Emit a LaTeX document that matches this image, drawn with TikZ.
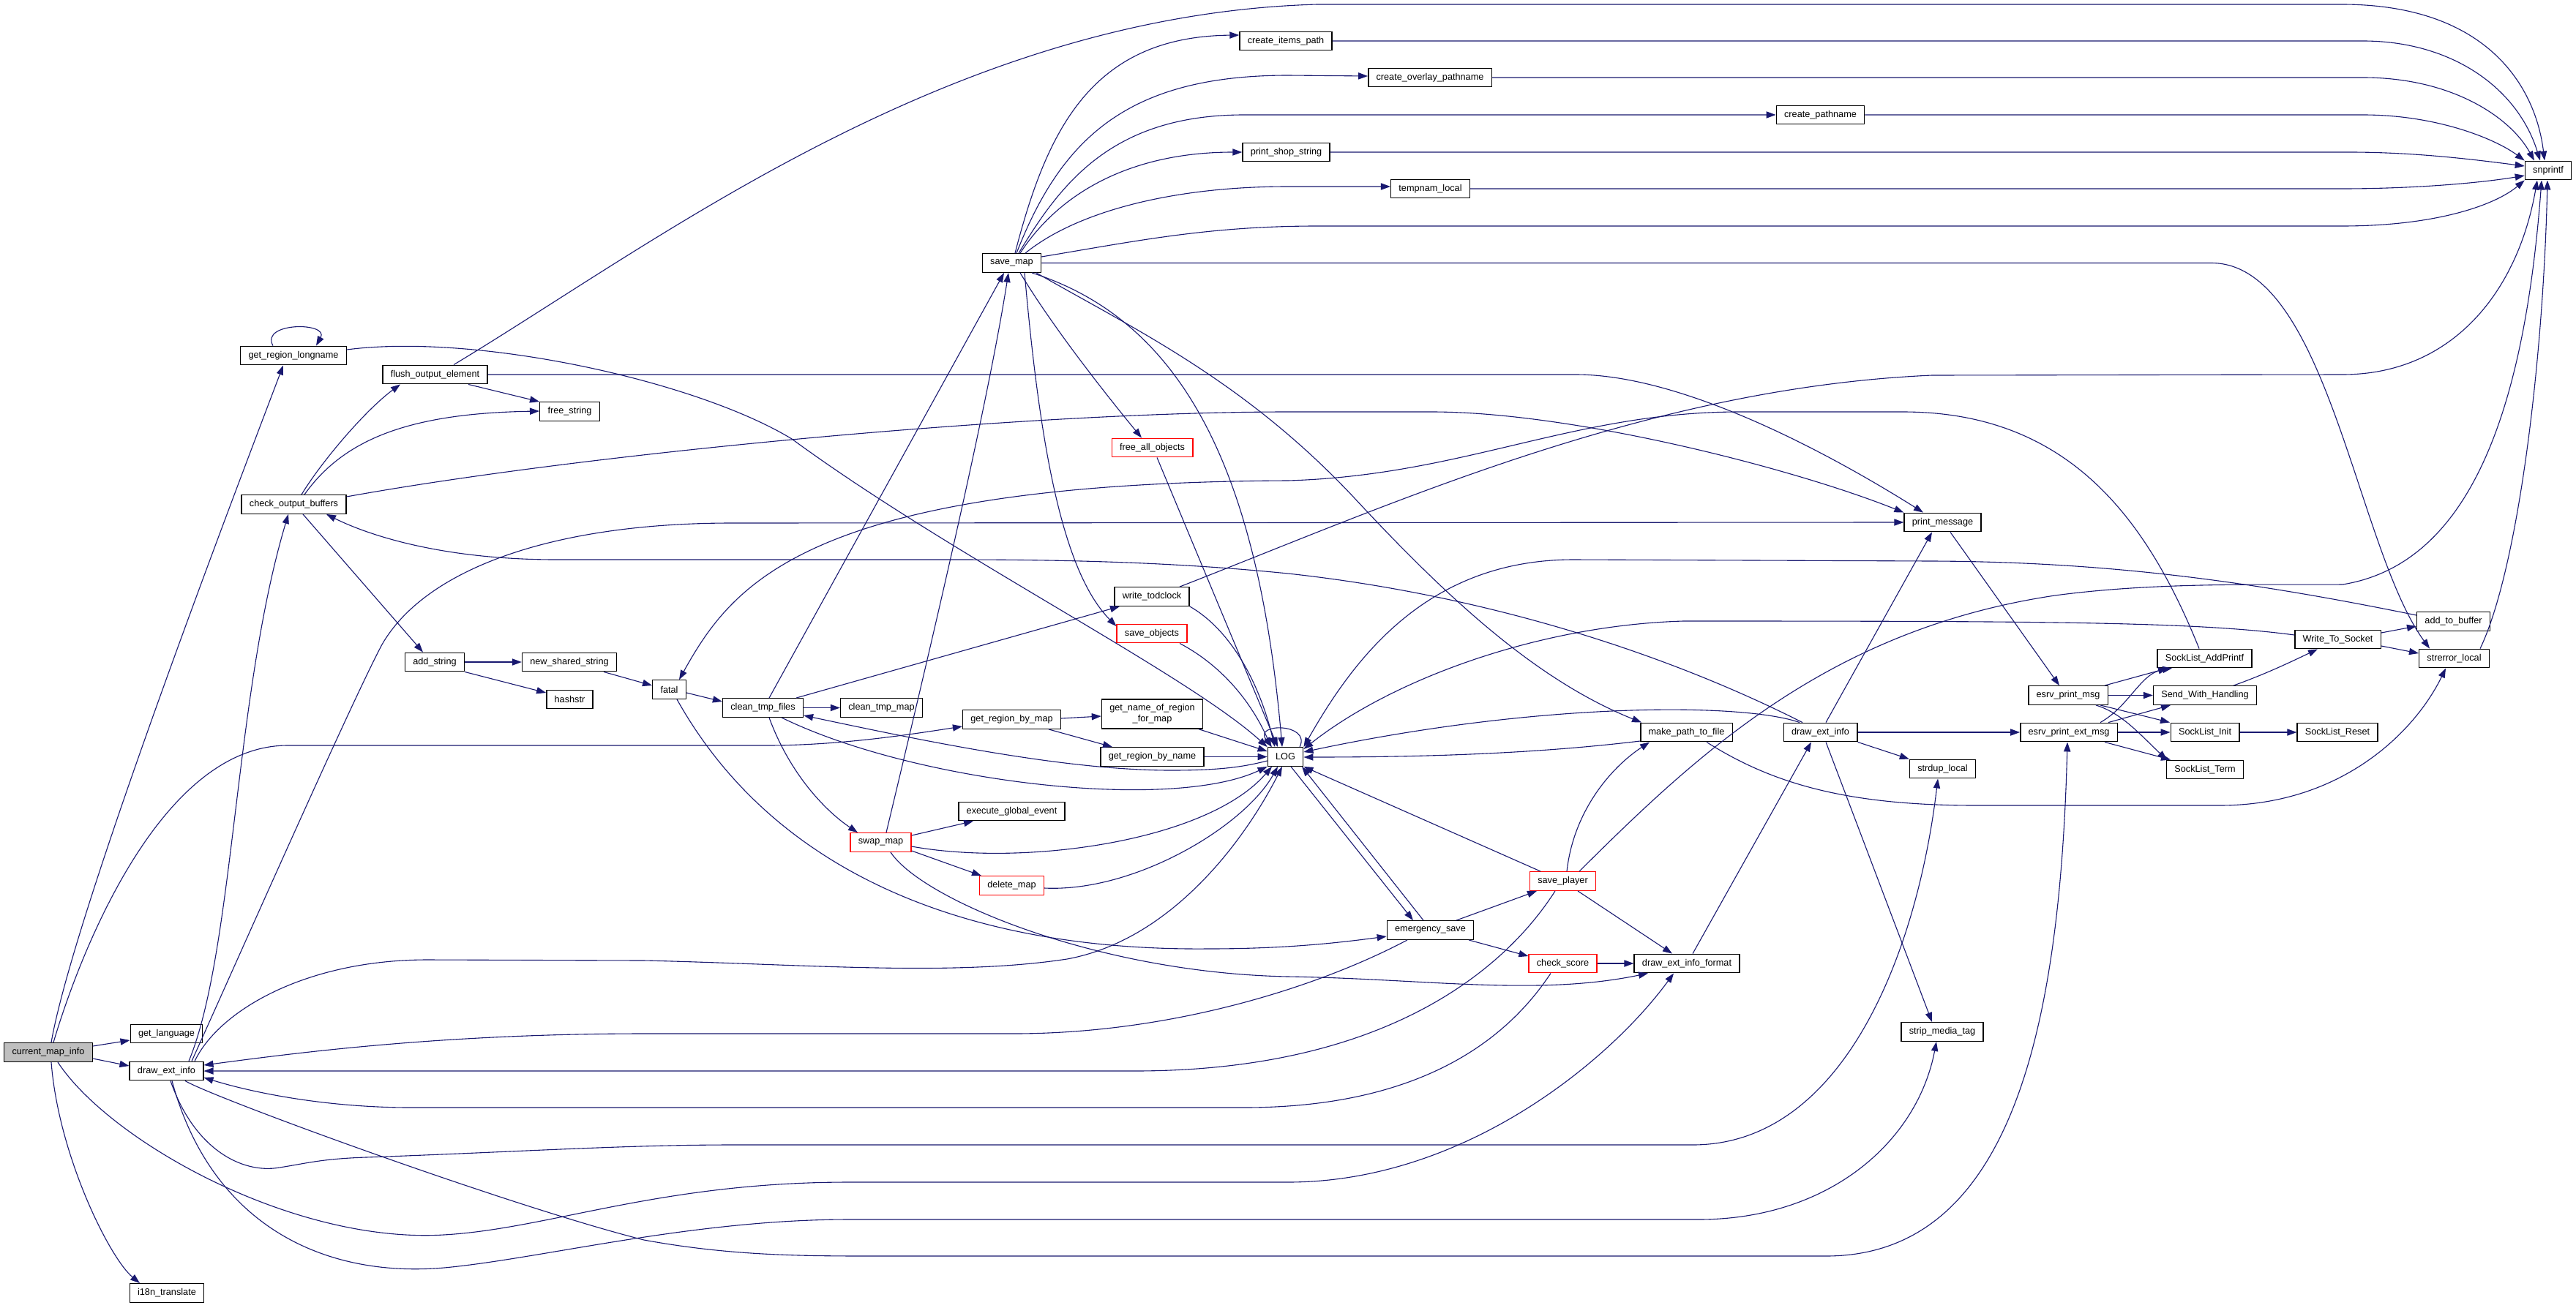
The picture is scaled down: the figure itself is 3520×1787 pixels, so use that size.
\documentclass[tikz,border=0pt]{standalone}
\usepackage{fontspec}
\newfontfamily\gvfont{Liberation Sans}
\usetikzlibrary{arrows.meta}
\definecolor{edgec}{HTML}{191970}
\definecolor{nodegray}{HTML}{BFBFBF}
\begin{document}
\begin{tikzpicture}[x=0.5pt,y=-0.5pt,
  fn/.style={draw=black,line width=0.7pt,fill=white,minimum height=12.75pt,inner xsep=5.4pt,inner ysep=0pt,
     font={\gvfont\fontsize{6.35pt}{7.4pt}\selectfont}},
  fnr/.style={fn,draw=red},
  e/.style={draw=edgec,line width=0.55pt,-{Triangle[length=6.5pt,width=4.6pt]}}]
\fill[white] (0,0) rectangle (3520,1787);
\useasboundingbox (0,0) rectangle (3520,1787);

% ---------- nodes ----------
\node[fn,fill=nodegray] (cmi) at (66,1438.5) {current\_map\_info};
\node[fn] (getlang) at (227.5,1413) {get\_language};
\node[fn] (deiL) at (227.5,1464) {draw\_ext\_info};
\node[fn] (i18n) at (228,1767.5) {i18n\_translate};
\node[fn] (grl) at (401,486) {get\_region\_longname};
\node[fn] (cob) at (401.5,689.5) {check\_output\_buffers};
\node[fn] (flush) at (594.5,512) {flush\_output\_element};
\node[fn] (freestr) at (778.5,562.5) {free\_string};
\node[fn] (addstr) at (594,905) {add\_string};
\node[fn] (nss) at (778,905) {new\_shared\_string};
\node[fn] (hashstr) at (778.5,956) {hashstr};
\node[fn] (fatal) at (914.5,942.5) {fatal};
\node[fn] (ctf) at (1042.5,967.5) {clean\_tmp\_files};
\node[fn] (ctm) at (1204.5,967.5) {clean\_tmp\_map};
\node[fn] (grbm) at (1382.5,983.5) {get\_region\_by\_map};
\node[fn,align=center,minimum height=20pt] (gnrfm) at (1574.5,976) {get\_name\_of\_region\\\_for\_map};
\node[fn] (grbn) at (1574.5,1034.5) {get\_region\_by\_name};
\node[fn] (LOG) at (1756.5,1034.5) {LOG};
\node[fn] (savemap) at (1382.5,359.5) {save\_map};
\node[fn] (cip) at (1757,56) {create\_items\_path};
\node[fn] (cop) at (1954,106) {create\_overlay\_pathname};
\node[fn] (cp) at (2487.5,157) {create\_pathname};
\node[fn] (psf) at (1757.5,208) {print\_shop\_string};
\node[fn] (tmpn) at (1954.5,258) {tempnam\_local};
\node[fn] (snp) at (3482,233) {snprintf};
\node[fnr] (fao) at (1574.5,612) {free\_all\_objects};
\node[fn] (wtc) at (1574,815.5) {write\_todclock};
\node[fnr] (sobj) at (1574,866) {save\_objects};
\node[fn] (ege) at (1382.5,1109) {execute\_global\_event};
\node[fnr] (swap) at (1203.5,1151.5) {swap\_map};
\node[fnr] (delmap) at (1382.5,1210.5) {delete\_map};
\node[fn] (esave) at (1954.5,1271.5) {emergency\_save};
\node[fnr] (splayer) at (2135.5,1204.5) {save\_player};
\node[fnr] (cscore) at (2135.5,1317) {check\_score};
\node[fn] (deif) at (2305,1317) {draw\_ext\_info\_format};
\node[fn] (mptf) at (2304.5,1001) {make\_path\_to\_file};
\node[fn] (deiR) at (2487.5,1001) {draw\_ext\_info};
\node[fn] (pmsg) at (2654.5,714) {print\_message};
\node[fn] (sdup) at (2654.5,1051) {strdup\_local};
\node[fn] (smt) at (2654,1410.5) {strip\_media\_tag};
\node[fn] (epm) at (2826,950.5) {esrv\_print\_msg};
\node[fn] (epem) at (2827,1001) {esrv\_print\_ext\_msg};
\node[fn] (slap) at (3012.5,900) {SockList\_AddPrintf};
\node[fn] (swh) at (3013,950.5) {Send\_With\_Handling};
\node[fn] (sli) at (3013,1001) {SockList\_Init};
\node[fn] (slt) at (3013,1052) {SockList\_Term};
\node[fn] (slr) at (3194,1001) {SockList\_Reset};
\node[fn] (wts) at (3194.5,874) {Write\_To\_Socket};
\node[fn] (atb) at (3352.5,849.5) {add\_to\_buffer};
\node[fn] (strerr) at (3353.5,900) {strerror\_local};

% ---------- edges ----------
% current_map_info
\draw[e] (cmi.north -| 70,0) .. controls (100,1250) and (330,650) .. (grl.south -| 387,0);
\draw[e] (cmi.east |- 0,1430) -- (getlang.west |- 0,1422);
\draw[e] (cmi.east |- 0,1447) -- (deiL.west |- 0,1457);
\draw[e] (cmi.south -| 70,0) .. controls (80,1580) and (150,1720) .. (i18n.north -| 191,0);
\draw[e] (cmi.north -| 73,0) .. controls (110,1300) and (220,1019) .. (393,1019) -- (1048,1019) .. controls (1150,1019) and (1250,1003) .. (grbm.west |- 0,993);
\draw[e] (cmi.south -| 79,0) .. controls (150,1560) and (400,1700) .. (606,1688) .. controls (750,1680) and (900,1616) .. (1160,1616) -- (1760,1616) .. controls (2000,1616) and (2200,1450) .. (deif.south -| 2287,0);

% get_region_longname
\draw[e] (grl.north -| 373,0) .. controls (355,440) and (450,440) .. (grl.north -| 432,0);
\draw[e] (grl.east |- 0,478) .. controls (650,455) and (950,520) .. (1082,600) .. controls (1300,760) and (1620,920) .. (LOG.north west);

% check_output_buffers
\draw[e] (cob.north -| 412,0) .. controls (440,630) and (500,560) .. (flush.south -| 547,0);
\draw[e] (cob.north -| 416,0) .. controls (470,600) and (560,565) .. (freestr.west |- 0,562);
\draw[e] (cob.south -| 414,0) -- (addstr.north -| 578,0);
\draw[e] (cob.east |- 0,679) .. controls (800,620) and (1400,563) .. (1760,563) -- (1956,563) .. controls (2150,563) and (2450,640) .. (pmsg.north west);

% flush_output_element
\draw[e] (flush.south -| 640,0) -- (freestr.north west);
\draw[e] (flush.north -| 620,0) .. controls (900,330) and (1300,20) .. (1800,6) -- (3200,6) .. controls (3400,6) and (3465,120) .. (snp.north -| 3477,0);
\draw[e] (flush.east) -- (2153,512) .. controls (2300,512) and (2500,620) .. (pmsg.north -| 2628,0);

% add_string / new_shared_string
\draw[e] (addstr.east) -- (nss.west);
\draw[e] (addstr.south east) -- (hashstr.west |- 0,947);
\draw[e] (nss.south -| 825,0) -- (fatal.west |- 0,937);

% fatal
\draw[e] (fatal.east |- 0,947) -- (ctf.west |- 0,959);
\draw[e] (fatal.south -| 925,0) .. controls (1050,1180) and (1300,1300) .. (1650,1297) .. controls (1750,1297) and (1820,1290) .. (esave.west |- 0,1280);

% clean_tmp_files
\draw[e] (ctf.east) -- (ctm.west);
\draw[e] (ctf.north -| 1051,0) -- (savemap.south -| 1372,0);
\draw[e] (ctf.north -| 1088,0) -- (wtc.south -| 1530,0);
\draw[e] (ctf.south -| 1051,0) .. controls (1080,1060) and (1130,1110) .. (swap.north -| 1172,0);
\draw[e] (ctf.south -| 1068,0) .. controls (1250,1070) and (1600,1110) .. (LOG.south west);
\draw[e] (LOG.west |- 0,1040) .. controls (1700,1048) and (1670,1053) .. (1600,1053) .. controls (1450,1053) and (1250,1010) .. (ctf.east |- 0,978);

% swap_map
\draw[e] (swap.north -| 1211,0) .. controls (1280,850) and (1350,550) .. (savemap.south -| 1378,0);
\draw[e] (swap.east |- 0,1142) -- (ege.south -| 1330,0);
\draw[e] (swap.east |- 0,1163) -- (delmap.north -| 1341,0);
\draw[e] (swap.east |- 0,1157) .. controls (1400,1185) and (1650,1150) .. (LOG.south -| 1738,0);
\draw[e] (swap.south -| 1217,0) .. controls (1260,1230) and (1500,1330) .. (1760,1335) .. controls (1950,1338) and (2100,1362) .. (deif.south -| 2252,0);
\draw[e] (delmap.east |- 0,1214) .. controls (1550,1220) and (1700,1130) .. (LOG.south -| 1746,0);

% get_region_by_map
\draw[e] (grbm.east |- 0,982) -- (gnrfm.west |- 0,979);
\draw[e] (grbm.south -| 1433,0) -- (grbn.north -| 1520,0);
\draw[e] (gnrfm.south -| 1638,0) -- (LOG.west |- 0,1027);
\draw[e] (grbn.east) -- (LOG.west |- 0,1034.5);

% save_map
\draw[e] (savemap.north -| 1387,0) .. controls (1430,180) and (1490,50) .. (cip.west |- 0,48);
\draw[e] (savemap.north -| 1389,0) .. controls (1450,190) and (1540,103) .. (1760,103) -- (cop.west |- 0,104);
\draw[e] (savemap.north -| 1392,0) .. controls (1450,250) and (1520,157) .. (1700,157) -- (cp.west);
\draw[e] (savemap.north -| 1394,0) .. controls (1450,260) and (1550,208) .. (psf.west);
\draw[e] (savemap.north -| 1401,0) .. controls (1470,290) and (1600,255) .. (1760,255) -- (tmpn.west |- 0,255);
\draw[e] (savemap.east |- 0,351) .. controls (1550,330) and (1650,309) .. (1800,309) -- (3200,309) .. controls (3330,309) and (3410,280) .. (snp.south west);
\draw[e] (savemap.east) -- (3022,359.5) .. controls (3180,360) and (3220,750) .. (strerr.north -| 3320,0);
\draw[e] (savemap.south -| 1394,0) .. controls (1440,450) and (1520,550) .. (fao.north -| 1560,0);
\draw[e] (savemap.south -| 1400,0) .. controls (1420,600) and (1450,780) .. (sobj.west |- 0,856);
\draw[e] (savemap.south -| 1410,0) .. controls (1620,440) and (1720,650) .. (LOG.north -| 1752,0);
\draw[e] (savemap.south -| 1416,0) .. controls (1550,450) and (1700,520) .. (1850,680) .. controls (1980,820) and (2100,930) .. (mptf.north -| 2243,0);

% create_* -> snprintf
\draw[e] (cip.east) -- (3229,56) .. controls (3350,56) and (3440,120) .. (snp.north -| 3471,0);
\draw[e] (cop.east) -- (3229,106) .. controls (3350,106) and (3430,160) .. (snp.north -| 3463,0);
\draw[e] (cp.east) -- (3229,157) .. controls (3330,157) and (3410,190) .. (snp.north west);
\draw[e] (psf.east) -- (3210,208) .. controls (3300,208) and (3380,218) .. (snp.west |- 0,227);
\draw[e] (tmpn.east) -- (3200,258) .. controls (3300,258) and (3390,250) .. (snp.west |- 0,240);

% write_todclock, free_all_objects, save_objects
\draw[e] (wtc.north -| 1612,0) .. controls (1900,690) and (2250,530) .. (2640,513) -- (3201,512) .. controls (3350,512) and (3440,400) .. (snp.south -| 3467,0);
\draw[e] (wtc.south east) .. controls (1680,860) and (1720,930) .. (LOG.north -| 1742,0);
\draw[e] (fao.south -| 1581,0) -- (LOG.north -| 1746,0);
\draw[e] (sobj.south -| 1612,0) .. controls (1670,910) and (1710,960) .. (LOG.north -| 1737,0);

% LOG
\draw[e] (LOG.north -| 1776,0) .. controls (1792,988) and (1712,988) .. (LOG.north -| 1738,0);
\draw[e] (LOG.south -| 1764,0) -- (esave.north -| 1931,0);
\draw[e] (esave.north -| 1945,0) -- (LOG.south -| 1779,0);

% emergency_save
\draw[e] (esave.north -| 1990,0) -- (splayer.south -| 2100,0);
\draw[e] (esave.south -| 2007,0) -- (cscore.west |- 0,1307);
\draw[e] (esave.south -| 1923,0) .. controls (1800,1350) and (1600,1413) .. (1385,1413) -- (880,1413) .. controls (600,1413) and (400,1440) .. (deiL.east |- 0,1456);

% save_player
\draw[e] (splayer.south -| 2156,0) -- (deif.north -| 2285,0);
\draw[e] (splayer.north -| 2105,0) -- (LOG.south east);
\draw[e] (splayer.north -| 2141,0) .. controls (2150,1110) and (2200,1050) .. (mptf.south -| 2254,0);
\draw[e] (splayer.north -| 2158,0) .. controls (2320,1030) and (2500,860) .. (2808,814) .. controls (2950,795) and (3100,800) .. (3201,799) .. controls (3380,770) and (3450,550) .. (snp.south -| 3473,0);
\draw[e] (splayer.south -| 2125,0) .. controls (2060,1320) and (1900,1464) .. (1550,1464) -- (deiL.east);

% check_score
\draw[e] (cscore.east) -- (deif.west);
\draw[e] (cscore.south -| 2119,0) .. controls (2040,1450) and (1900,1514) .. (1700,1514) -- (561,1514) .. controls (450,1514) and (350,1495) .. (deiL.east |- 0,1473);

% draw_ext_info_format
\draw[e] (deif.north -| 2313,0) -- (deiR.south -| 2475,0);

% make_path_to_file
\draw[e] (mptf.west |- 0,1013) .. controls (2100,1030) and (1950,1035) .. (LOG.east |- 0,1035);
\draw[e] (mptf.south -| 2332,0) .. controls (2420,1070) and (2520,1101) .. (2700,1101) -- (3033,1101) .. controls (3200,1101) and (3300,1000) .. (strerr.south -| 3342,0);

% draw_ext_info (right)
\draw[e] (deiR.north -| 2459,0) .. controls (2380,960) and (2100,960) .. (LOG.east |- 0,1028);
\draw[e] (deiR.north -| 2463,0) .. controls (2250,880) and (2000,810) .. (1760,784) .. controls (1600,768) and (1450,765) .. (1300,765) -- (760,765) .. controls (600,765) and (500,730) .. (cob.south -| 446,0);
\draw[e] (deiR.north -| 2495,0) -- (pmsg.south -| 2640,0);
\draw[e] (deiR.east) -- (epem.west);
\draw[e] (deiR.south east) -- (sdup.north west);
\draw[e] (deiR.south -| 2495,0) -- (smt.north -| 2640,0);

% print_message / esrv
\draw[e] (pmsg.south -| 2665,0) -- (epm.north -| 2814,0);
\draw[e] (epm.north -| 2876,0) -- (slap.south -| 2962,0);
\draw[e] (epm.east) -- (swh.west);
\draw[e] (epm.south -| 2870,0) -- (sli.north -| 2965,0);
\draw[e] (epm.south -| 2864,0) .. controls (2900,975) and (2925,1005) .. (slt.north -| 2961,0);
\draw[e] (epem.north -| 2870,0) .. controls (2910,965) and (2925,920) .. (slap.south -| 2968,0);
\draw[e] (epem.north -| 2881,0) -- (swh.south -| 2966,0);
\draw[e] (epem.east) -- (sli.west);
\draw[e] (epem.south -| 2876,0) -- (slt.north -| 2966,0);
\draw[e] (sli.east) -- (slr.west);
\draw[e] (swh.north -| 3052,0) .. controls (3100,920) and (3140,900) .. (wts.south -| 3167,0);

% Write_To_Socket / add_to_buffer / strerror_local / SockList_AddPrintf
\draw[e] (wts.east |- 0,865) -- (atb.west |- 0,856);
\draw[e] (wts.east |- 0,883) -- (strerr.west |- 0,893);
\draw[e] (wts.west |- 0,868) .. controls (3000,850) and (2800,849) .. (2300,849) .. controls (2100,855) and (1900,930) .. (LOG.east |- 0,1024);
\draw[e] (atb.west |- 0,841) .. controls (3100,800) and (2900,768) .. (2640,767) -- (2150,765) .. controls (1950,765) and (1850,900) .. (LOG.north east);
\draw[e] (strerr.north -| 3389,0) .. controls (3440,780) and (3475,500) .. (snp.south -| 3481,0);
\draw[e] (slap.north -| 3005,0) .. controls (2930,700) and (2820,563) .. (2600,563) -- (2377,563) .. controls (2150,563) and (2000,650) .. (1760,657) .. controls (1100,660) and (1000,800) .. (fatal.north -| 928,0);

% draw_ext_info (left)
\draw[e] (deiL.north -| 258,0) .. controls (320,1300) and (320,950) .. (cob.south -| 394,0);
\draw[e] (deiL.north -| 262,0) .. controls (330,1300) and (480,960) .. (522,881) .. controls (580,780) and (750,715) .. (1000,715) -- (pmsg.west);
\draw[e] (deiL.north -| 266,0) .. controls (300,1380) and (420,1312) .. (584,1312) -- (880,1313) .. controls (1100,1318) and (1300,1335) .. (1458,1311) .. controls (1600,1285) and (1700,1150) .. (LOG.south -| 1752,0);
\draw[e] (deiL.south -| 233,0) .. controls (265,1570) and (330,1605) .. (382,1596) .. controls (420,1590) and (440,1584) .. (500,1582) .. controls (700,1575) and (850,1565) .. (1000,1565) -- (2313,1565) .. controls (2520,1565) and (2620,1300) .. (sdup.south -| 2648,0);
\draw[e] (deiL.south -| 235,0) .. controls (290,1680) and (450,1750) .. (617,1732) .. controls (750,1718) and (950,1667) .. (1160,1667) -- (2321,1667) .. controls (2500,1667) and (2620,1560) .. (smt.south -| 2646,0);
\draw[e] (deiL.south -| 253,0) .. controls (290,1500) and (700,1650) .. (880,1695) .. controls (1000,1717) and (1100,1717) .. (1200,1717) -- (2495,1717) .. controls (2750,1717) and (2815,1400) .. (epem.south -| 2825,0);
\end{tikzpicture}
\end{document}
